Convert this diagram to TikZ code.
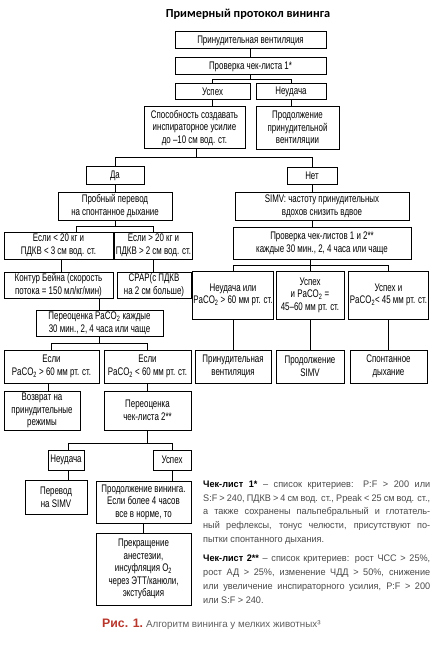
\documentclass[tikz,border=0pt]{standalone}
\usepackage{fontspec}
\setmainfont{Liberation Sans}
\newfontfamily\bxf[FakeStretch=0.72]{Liberation Sans}
\newfontfamily\ntf[FakeStretch=0.96]{Liberation Sans}
\newfontfamily\ttlf{Carlito}
\definecolor{notegray}{HTML}{4A4A4A}
\definecolor{capgray}{HTML}{606060}
\definecolor{capred}{HTML}{B8372C}
\newcommand\sub[1]{\textsubscript{#1}}
\newcommand\B[6]{\node[bx, minimum width={(#4-#2)*1pt}, minimum height={(#5-#3)*1pt}] (#1) at ({(#2+#4)/2},{(#3+#5)/2}) {#6};}
\newcommand\NL[1]{\makebox[227pt][s]{#1}}
\begin{document}
\begin{tikzpicture}[x=1pt,y=-1pt,
  bx/.style={draw=black, line width=1pt, align=center, inner sep=1pt,
    font=\bxf\fontsize{11}{12.6}\selectfont},
  ln/.style={line width=1pt, draw=black}]
\useasboundingbox[fill=white] (0,0) rectangle (437,655);

\node[font=\ttlf\bfseries\fontsize{12.3}{14}\selectfont] (title) at (248,14) {Примерный протокол вининга};

% top
\B{b1}{175}{32}{326}{49}{Принудительная вентиляция}
\B{b2}{175}{58}{326}{75}{Проверка чек-листа 1*}
\B{usp1}{175}{84}{250}{100}{Успех}
\B{neu1}{256}{84}{326}{100}{Неудача}
\B{sposob}{144}{107}{245}{149}{Способность создавать\\инспираторное усилие\\до –10 см вод. ст.}
\B{prodpv}{256}{107}{339}{150}{Продолжение\\принудительной\\вентиляции}
\B{da}{86}{167}{144}{184}{Да}
\B{net}{287}{168}{337}{184}{Нет}

% left branch
\B{prob}{58}{192}{172}{220}{Пробный перевод\\на спонтанное дыхание}
\B{esli20l}{4}{232}{113}{259}{Если < 20 кг и\\ПДКВ < 3 см вод. ст.}
\B{esli20g}{116}{232}{191}{259}{Если > 20 кг и\\ПДКВ > 2 см вод. ст.}
\B{kontur}{4}{272}{113}{298}{Контур Бейна (скорость\\потока = 150 мл/кг/мин)}
\B{cpap}{117}{272}{191}{298}{CPAP(с ПДКВ\\на 2 см больше)}
\B{perpa}{36}{310}{163}{336}{Переоценка PaCO\sub{2} каждые\\30 мин., 2, 4 часа или чаще}
\B{eslig60}{4}{350}{99}{383}{Если\\PaCO\sub{2} > 60 мм рт. ст.}
\B{eslil60}{104}{350}{191}{383}{Если\\PaCO\sub{2} < 60 мм рт. ст.}
\B{vozvrat}{4}{391}{80}{430}{Возврат на\\принудительные\\режимы}
\B{percl2}{104}{391}{191}{430}{Переоценка\\чек-листа 2**}
\B{neu2}{48}{450}{84}{470}{Неудача}
\B{usp2}{153}{450}{191}{470}{Успех}
\B{perevod}{25}{480}{87}{514}{Перевод\\на SIMV}
\B{prodvin}{96}{481}{191}{523}{Продолжение вининга.\\Если более 4 часов\\все в норме, то}
\B{prekr}{96}{533}{191}{605}{Прекращение\\анестезии,\\инсуфляция O\sub{2}\\через ЭТТ/канюли,\\экстубация}

% right branch
\B{simv}{235}{192}{409}{220}{SIMV: частоту принудительных\\вдохов снизить вдвое}
\B{prov12}{233}{227}{411}{259}{Проверка чек-листов 1 и 2**\\каждые 30 мин., 2, 4 часа или чаще}
\B{neudili}{195}{271}{271}{319}{Неудача или\\PaCO\sub{2} > 60 мм рт. ст.}
\B{uspeq}{276}{271}{344}{319}{Успех\\и PaCO\sub{2} =\\45–60 мм рт. ст.}
\B{usple}{350}{271}{427}{319}{Успех и\\PaCO\sub{2}< 45 мм рт. ст.}
\B{prinv2}{195}{350}{271}{383}{Принудительная\\вентиляция}
\B{prodsimv}{276}{350}{344}{383}{Продолжение\\SIMV}
\B{spont}{350}{350}{427}{383}{Спонтанное\\дыхание}

% junction coordinates
\coordinate (j1) at (250.5,80);
\coordinate (j2) at (196,158);
\coordinate (j4l) at (76,226);
\coordinate (j4r) at (153,226);
\coordinate (k1) at (61,0);
\coordinate (j5) at (99.5,343);
\coordinate (v1) at (48,0);
\coordinate (j6) at (147.5,443);
\coordinate (n2) at (68,0);
\coordinate (j3) at (310,265);

% connectors
\draw[ln] (b1) -- (b2);
\draw[ln] (b2.south) -- (j1);
\draw[ln] (usp1.north) -- (usp1.north |- j1) -- (neu1.north |- j1) -- (neu1.north);
\draw[ln] (usp1.south) -- (usp1.south |- sposob.north);
\draw[ln] (neu1.south) -- (neu1.south |- prodpv.north);
\draw[ln] (sposob.south -| j2) -- (j2);
\draw[ln] (da.north) -- (da.north |- j2) -- (net.north |- j2) -- (net.north);
\draw[ln] (da.south) -- (prob.north);
\draw[ln] (net.south) -- (net.south |- simv.north);
\draw[ln] (simv.south -| net.south) -- (prov12.north -| net.south);

\draw[ln] (prob.south) -- (prob.south |- j4l);
\draw[ln] (esli20l.north -| j4l) -- (j4l) -- (j4r) -- (esli20g.north -| j4r);
\draw[ln] (esli20l.south -| k1) -- (kontur.north -| k1);
\draw[ln] (esli20g.south -| j4r) -- (cpap.north -| j4r);
\draw[ln] (kontur.south -| perpa.north) -- (perpa.north);
\draw[ln] (perpa.south) -- (j5);
\draw[ln] (eslig60.north) -- (eslig60.north |- j5) -- (eslil60.north |- j5) -- (eslil60.north);
\draw[ln] (eslig60.south -| v1) -- (vozvrat.north -| v1);
\draw[ln] (eslil60.south) -- (percl2.north);
\draw[ln] (percl2.south) -- (j6);
\draw[ln] (neu2.north -| n2) -- (n2 |- j6) -- (usp2.north |- j6) -- (usp2.north);
\draw[ln] (neu2.south -| n2) -- (perevod.north -| n2);
\draw[ln] (usp2.south) -- (usp2.south |- prodvin.north);
\draw[ln] (prodvin.south -| prekr.north) -- (prekr.north);

\draw[ln] (prov12.south -| j3) -- (j3);
\draw[ln] (neudili.north) -- (neudili.north |- j3) -- (usple.north |- j3) -- (usple.north);
\draw[ln] (uspeq.north) -- (uspeq.north |- j3);
\draw[ln] (neudili) -- (prinv2);
\draw[ln] (uspeq) -- (prodsimv);
\draw[ln] (usple) -- (spont);

% notes
\node[anchor=north west, inner sep=0, align=left, text=notegray,
  font=\ntf\fontsize{9.5}{13.75}\selectfont] (note1) at (203,480.5) {%
\NL{\textcolor{black}{\bfseries Чек-лист 1*} – список критериев: P:F > 200 или}\\
\NL{S:F > 240, ПДКВ > 4 см вод. ст., Ppeak < 25 см вод. ст.,}\\
\NL{а также сохранены пальпебральный и глотатель-}\\
\NL{ный рефлексы, тонус челюсти, присутствуют по-}\\
пытки спонтанного дыхания.};
\node[anchor=north west, inner sep=0, align=left, text=notegray,
  font=\ntf\fontsize{9.5}{13.75}\selectfont] (note2) at (203,555) {%
\NL{\textcolor{black}{\bfseries Чек-лист 2**} – список критериев: рост ЧСС > 25\%,}\\
\NL{рост АД > 25\%, изменение ЧДД > 50\%, снижение}\\
\NL{или увеличение инспираторного усилия,  P:F > 200}\\
или S:F > 240.};

% caption
\node[anchor=base west, inner sep=0] (cap) at (102,627) {%
{\color{capred}\bfseries\fontsize{12.3}{14}\selectfont Рис. 1.}\hspace{3pt}{\color{capgray}\fontsize{9.8}{11}\selectfont Алгоритм вининга у мелких животных³}};
\end{tikzpicture}
\end{document}
